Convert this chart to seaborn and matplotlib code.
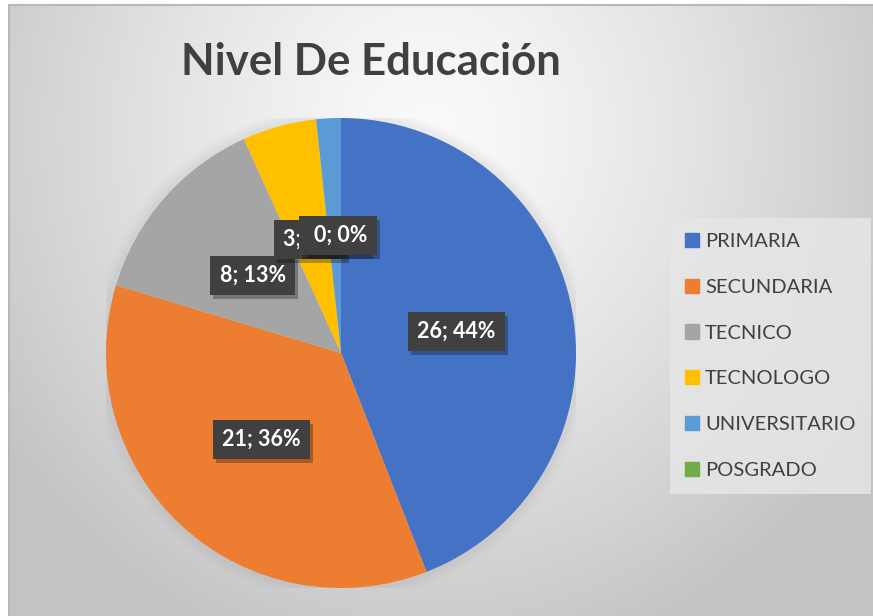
import numpy as np
import matplotlib
matplotlib.use("Agg")
import matplotlib.pyplot as plt
import matplotlib.patches as mpatches
import matplotlib.transforms as mtransforms
import seaborn as sns

categories = ["PRIMARIA", "SECUNDARIA", "TECNICO", "TECNOLOGO", "UNIVERSITARIO", "POSGRADO"]
values = [26, 21, 8, 3, 1, 0]
label_texts = ["26; 44%", "21; 36%", "8; 13%", "3; 5%", "1; 2%", "0; 0%"]
title = "Nivel De Educación"

sns.set_theme(style="white")
plt.rcParams["font.family"] = ["Lato", "DejaVu Sans"]

colors = ["#4472C4", "#ED7D31", "#A5A5A5", "#FFC000", "#5B9BD5", "#70AD47"]
palette = sns.color_palette(colors)

W, H = 873, 616
fig = plt.figure(figsize=(W / 100, H / 100), dpi=100)
fig.patch.set_facecolor("white")

# background gradient
bg = fig.add_axes([0, 0, 1, 1])
bg.set_xlim(0, W)
bg.set_ylim(H, 0)
bg.axis("off")
yy, xx = np.mgrid[0:H, 0:W]
cx, cy, a, b = 430, 130, 520, 560
d = np.sqrt(((xx - cx) / a) ** 2 + ((yy - cy) / b) ** 2)
lev = 250 - 55 * np.clip(d, 0, 1) ** 1.3
img = np.dstack([lev, lev, lev]) / 255.0
bg.imshow(img[5:, 9:], extent=(9, W, H, 5), aspect="auto", zorder=0)
bg.plot([9, 9, W], [H, 5, 5], color="#b8b8b8", lw=1.5, zorder=1)

# pie
pcx, pcy, R = 341, 353, 235
ax = fig.add_axes([(pcx - R) / W, (H - pcy - R) / H, 2 * R / W, 2 * R / H])
ax.axis("off")

# soft shadow around pie
for r, al in [(1.05, 0.03), (1.035, 0.04), (1.02, 0.05)]:
    ax.add_patch(mpatches.Circle((0, 0), r, color="#808080", alpha=al, lw=0, zorder=0))

wedges, _ = ax.pie(values, colors=palette, startangle=90, counterclock=False,
                   radius=1, wedgeprops=dict(linewidth=0), normalize=True)
for w in wedges:
    w.set_zorder(1)
ax.set_xlim(-1, 1)
ax.set_ylim(-1, 1)
ax.set_aspect("equal")

total = sum(values)
FS = 15.5
start = 0.0
for i, (v, txt) in enumerate(zip(values, label_texts)):
    mid = start + v / total * 360 / 2
    start += v / total * 360
    th = np.deg2rad(mid)
    x, y = 0.5 * np.sin(th), 0.5 * np.cos(th)
    sh = mtransforms.offset_copy(ax.transData, fig=fig, x=3, y=-4, units="dots")
    ax.text(x, y, txt, transform=sh, ha="center", va="center", fontsize=FS,
            fontweight="bold", color=(0, 0, 0, 0), zorder=5 + 2 * i,
            bbox=dict(boxstyle="square,pad=0.42", fc=(0, 0, 0, 0.28), ec="none"))
    ax.text(x, y, txt, ha="center", va="center", fontsize=FS, fontweight="bold",
            color="white", zorder=6 + 2 * i,
            bbox=dict(boxstyle="square,pad=0.42", fc="#404040", ec="none"))

# title
fig.text(371 / W, 1 - 62 / H, title, ha="center", va="center", fontsize=31.5,
         fontweight="bold", color="#404040")

# legend
handles = [mpatches.Patch(color=c, label=l) for c, l in zip(palette, categories)]
leg = fig.legend(handles=handles, loc="upper left", bbox_to_anchor=(670 / W, 1 - 218 / H),
                 frameon=True, fontsize=14.5, handlelength=0.7, handleheight=0.7,
                 handletextpad=0.3, labelspacing=1.42, borderpad=0.75, borderaxespad=0,
                 fancybox=False)
leg.get_frame().set_facecolor("#e6e6e6")
leg.get_frame().set_edgecolor("none")
leg.get_frame().set_alpha(0.85)
for t in leg.get_texts():
    t.set_color("#404040")

fig.savefig("out.png", dpi=100)
